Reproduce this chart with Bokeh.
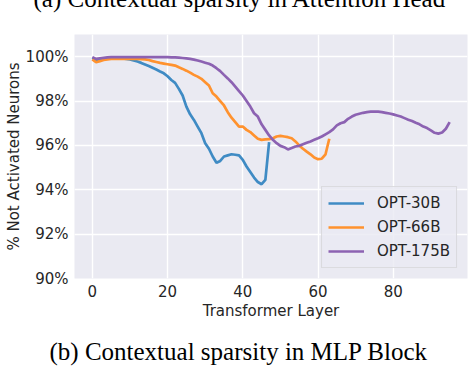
import numpy as np
from bokeh.plotting import figure
from bokeh.models import Legend, LegendItem, FixedTicker, Range1d, Title
from bokeh.embed import file_html
from bokeh.resources import INLINE

series_names = ["OPT-30B", "OPT-66B", "OPT-175B"]

opt30b = [99.95, 99.85, 99.88, 99.92, 99.93, 99.93, 99.93, 99.93, 99.92, 99.90,
          99.88, 99.83, 99.78, 99.72, 99.65, 99.58, 99.50, 99.42, 99.33, 99.25,
          99.12, 98.95, 98.82, 98.55, 98.25, 97.75, 97.40, 97.15, 96.85, 96.55,
          96.10, 95.85, 95.50, 95.22, 95.30, 95.50, 95.55, 95.60, 95.58, 95.55,
          95.35, 95.05, 94.80, 94.55, 94.35, 94.25, 94.45, 96.15]

opt66b = [99.88, 99.75, 99.80, 99.85, 99.88, 99.90, 99.90, 99.90, 99.90, 99.90,
          99.90, 99.90, 99.90, 99.89, 99.88, 99.85, 99.80, 99.76, 99.72, 99.69,
          99.66, 99.63, 99.60, 99.52, 99.45, 99.37, 99.28, 99.18, 99.10, 99.00,
          98.85, 98.70, 98.35, 98.20, 98.00, 97.80, 97.50, 97.25, 97.05, 96.85,
          96.85, 96.70, 96.60, 96.45, 96.30, 96.25, 96.27, 96.28, 96.32, 96.40,
          96.43, 96.40, 96.37, 96.32, 96.18, 96.00, 95.85, 95.72, 95.60, 95.45,
          95.38, 95.40, 95.60, 96.30]

opt175b = [99.98, 99.90, 99.93, 99.95, 99.97, 99.98, 99.98, 99.98, 99.98, 99.98,
           99.98, 99.98, 99.98, 99.98, 99.98, 99.98, 99.98, 99.98, 99.98, 99.98,
           99.98, 99.97, 99.97, 99.96, 99.94, 99.92, 99.90, 99.87, 99.83, 99.78,
           99.73, 99.68, 99.60, 99.48, 99.35, 99.18, 99.02, 98.85, 98.65, 98.45,
           98.25, 98.00, 97.75, 97.45, 97.30, 96.95, 96.70, 96.45, 96.25, 96.10,
           95.98, 95.92, 95.82, 95.88, 95.95, 95.98, 96.05, 96.12, 96.18, 96.25,
           96.32, 96.40, 96.50, 96.60, 96.72, 96.90, 97.00, 97.05, 97.20, 97.30,
           97.38, 97.43, 97.47, 97.50, 97.52, 97.52, 97.52, 97.50, 97.47, 97.44,
           97.40, 97.35, 97.30, 97.23, 97.16, 97.10, 97.02, 96.95, 96.85, 96.78,
           96.68, 96.57, 96.53, 96.58, 96.75, 97.05]

x_ticks = [0, 20, 40, 60, 80]
y_ticks = [90, 92, 94, 96, 98, 100]
y_tick_labels = ["90%", "92%", "94%", "96%", "98%", "100%"]
colors = ["#3F8BC4", "#FF922E", "#8C62B2"]

x_label = "Transformer Layer"
y_label = "% Not Activated Neurons"
top_caption = "(a) Contextual sparsity in Attention Head"
bottom_caption = "(b) Contextual sparsity in MLP Block"

FONT = "DejaVu Sans"
SERIF = "Liberation Serif"

top_title = Title(text=top_caption, align="left", offset=-41, standoff=-100,
                  vertical_align="top", text_font=SERIF, text_font_size="25px",
                  text_font_style="normal", text_color="black")

p = figure(width=468, height=368, output_backend="svg", toolbar_location=None,
           x_range=Range1d(-4.75, 99.75), y_range=Range1d(90, 101),
           min_border_left=74, min_border_right=1, min_border_top=34, min_border_bottom=90,
           title=top_title)

p.background_fill_color = "#EAEAF2"
p.border_fill_color = "white"
p.outline_line_color = None

for ax in (p.xaxis[0], p.yaxis[0]):
    ax.axis_line_color = None
    ax.major_tick_line_color = None
    ax.minor_tick_line_color = None
    ax.major_tick_out = 0
    ax.major_tick_in = 0
    ax.minor_tick_out = 0
    ax.minor_tick_in = 0
    ax.major_label_text_font = FONT
    ax.major_label_text_font_size = "15px"
    ax.major_label_text_color = "#262626"
    ax.axis_label_text_font = FONT
    ax.axis_label_text_font_size = "15px"
    ax.axis_label_text_font_style = "normal"
    ax.axis_label_text_color = "#262626"

p.xaxis.ticker = FixedTicker(ticks=x_ticks)
p.yaxis.ticker = FixedTicker(ticks=y_ticks)
p.yaxis.major_label_overrides = {t: l for t, l in zip(y_ticks, y_tick_labels)}
p.xaxis.axis_label = x_label
p.yaxis.axis_label = y_label
p.xaxis.major_label_standoff = 6
p.xaxis.axis_label_standoff = 2
p.yaxis.major_label_standoff = 6
p.yaxis.axis_label_standoff = 0

p.grid.grid_line_color = "white"
p.grid.grid_line_width = 1.4

renderers = []
for name, ys, c in zip(series_names, [opt30b, opt66b, opt175b], colors):
    xs = list(range(len(ys)))
    r = p.line(xs, ys, line_color=c, line_width=2.7)
    renderers.append((name, r))

legend = Legend(items=[LegendItem(label=n, renderers=[r]) for n, r in renderers],
                location="bottom_right")
legend.label_text_font = FONT
legend.label_text_font_size = "15px"
legend.label_text_color = "#262626"
legend.glyph_width = 36
legend.glyph_height = 20
legend.label_height = 20
legend.spacing = 4
legend.padding = 6
legend.margin = 10
legend.label_standoff = 13
legend.background_fill_color = "#EAEAF2"
legend.background_fill_alpha = 0.8
legend.border_line_color = "#CCCCCC"
legend.border_line_width = 1
p.add_layout(legend)

cap = Title(text=bottom_caption, align="left", offset=-25, standoff=-84,
            vertical_align="bottom",
            text_font=SERIF, text_font_size="25px", text_font_style="normal",
            text_color="black")
p.add_layout(cap, "below")

open("out.html", "w").write(file_html(p, INLINE))
